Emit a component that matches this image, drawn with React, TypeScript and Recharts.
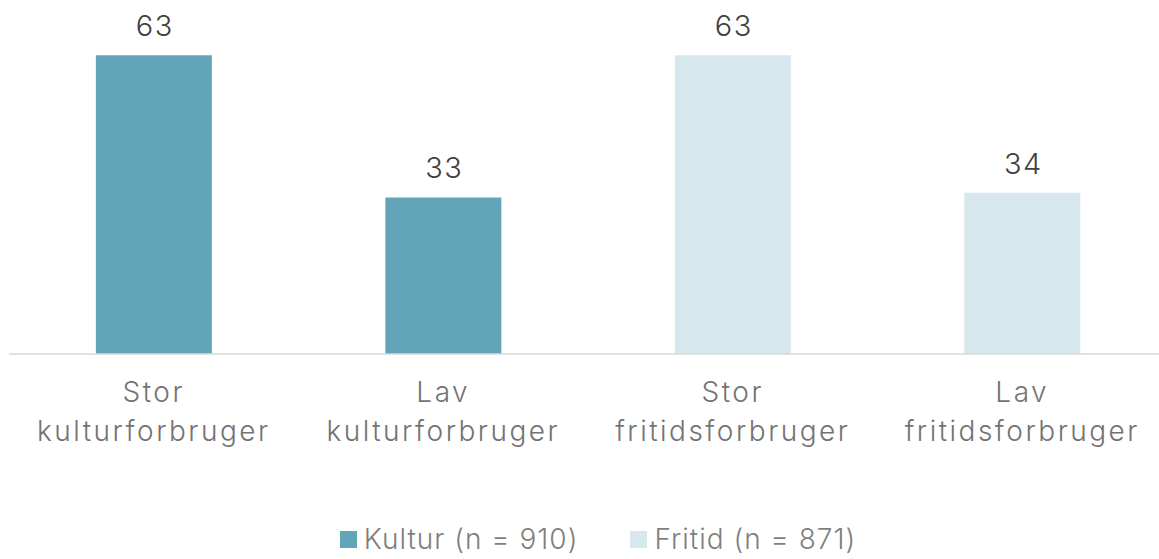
import React from 'react';
import { BarChart, Bar, XAxis, YAxis, Legend, LabelList } from 'recharts';

const categories = ['Stor|kulturforbruger', 'Lav|kulturforbruger', 'Stor|fritidsforbruger', 'Lav|fritidsforbruger'];
const kultur = [63, 33, null, null];
const fritid = [null, null, 63, 34];
const seriesNames = ['Kultur (n = 910)', 'Fritid (n = 871)'];
const colors = ['#62A5B8', '#D6E8ED'];

const data = categories.map((c, i) => ({ name: c, kultur: kultur[i], fritid: fritid[i] }));

const FONT = 'Inter, "Open Sans", sans-serif';

const CategoryTick = (props: any) => {
  const { x, y, payload } = props;
  const lines = String(payload.value).split('|');
  return (
    <text x={x} y={y} textAnchor="middle" fontFamily={FONT} fontWeight={300} fontSize={28} fill="#737373" letterSpacing={2.5}>
      {lines.map((l, i) => (
        <tspan key={i} x={x} dy={i === 0 ? 40 : 39}>{l}</tspan>
      ))}
    </text>
  );
};

const ValueLabel = (props: any) => {
  const { x, y, width, value } = props;
  if (value == null) return null;
  return (
    <text x={x + width / 2 + 1} y={y - 19} textAnchor="middle" fontFamily={FONT} fontWeight={300} fontSize={29} fill="#404040" letterSpacing={1.5}>
      {value}
    </text>
  );
};

const LegendContent = () => (
  <div style={{ height: 40, display: 'flex', justifyContent: 'center', alignItems: 'center', gap: 52, paddingLeft: 20, fontFamily: FONT, fontWeight: 300, fontSize: 28, color: '#7f7f7f', letterSpacing: 1.0 }}>
    {seriesNames.map((n, i) => (
      <div key={n} style={{ display: 'flex', alignItems: 'center' }}>
        <span style={{ width: 17, height: 17, background: colors[i], display: 'inline-block', marginRight: 7 }} />
        <span>{n}</span>
      </div>
    ))}
  </div>
);

export default function App() {
  return (
    <div style={{ position: 'absolute', left: 0, top: 0, width: 1159, height: 559, overflow: 'hidden', background: '#fff' }}>
      <BarChart width={1170} height={559} data={data} margin={{ top: 22, right: 3, left: 9, bottom: 0 }} barCategoryGap="30%">
        <XAxis dataKey="name" tickLine={false} axisLine={{ stroke: '#D9D9D9', strokeWidth: 1.5 }} tick={<CategoryTick />} height={165} interval={0} />
        <YAxis hide domain={[0, 70]} />
        <Legend verticalAlign="bottom" content={<LegendContent />} />
        <Bar dataKey="kultur" stackId="a" fill={colors[0]} isAnimationActive={false}>
          <LabelList dataKey="kultur" content={<ValueLabel />} />
        </Bar>
        <Bar dataKey="fritid" stackId="a" fill={colors[1]} isAnimationActive={false}>
          <LabelList dataKey="fritid" content={<ValueLabel />} />
        </Bar>
      </BarChart>
    </div>
  );
}
